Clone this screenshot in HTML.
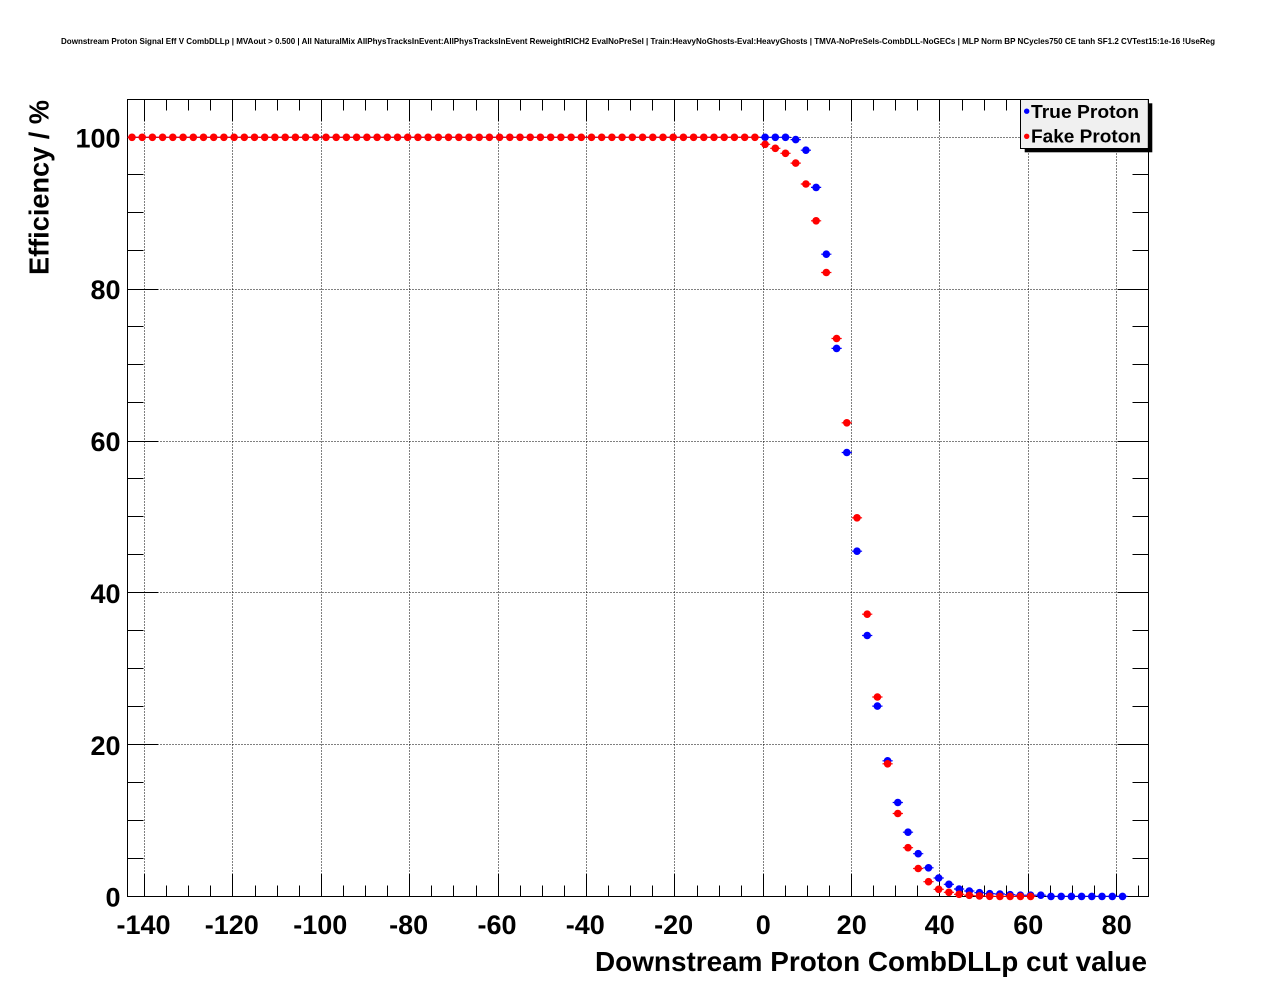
<!DOCTYPE html>
<html>
<head>
<meta charset="utf-8">
<style>
html,body{margin:0;padding:0;background:#fff;}
body{width:1276px;height:996px;overflow:hidden;}
svg{display:block;}
text{font-family:"Liberation Sans",Arial,Helvetica,sans-serif;font-weight:bold;fill:#000;}
</style>
</head>
<body>
<svg width="1276" height="996" viewBox="0 0 1276 996" xmlns="http://www.w3.org/2000/svg">
<rect x="0" y="0" width="1276" height="996" fill="#fff"/>

<!-- title -->
<text x="61" y="44" font-size="8.2" textLength="1154" lengthAdjust="spacingAndGlyphs">Downstream Proton Signal Eff V CombDLLp | MVAout &gt; 0.500 | All NaturalMix AllPhysTracksInEvent:AllPhysTracksInEvent ReweightRICH2 EvalNoPreSel | Train:HeavyNoGhosts-Eval:HeavyGhosts | TMVA-NoPreSels-CombDLL-NoGECs | MLP Norm BP NCycles750 CE tanh SF1.2 CVTest15:1e-16 !UseReg</text>

<!-- grid -->
<g stroke="#000" stroke-width="1" stroke-dasharray="1 2" fill="none">
<path d="M144.5 99.5V896.5M232.5 99.5V896.5M321.5 99.5V896.5M409.5 99.5V896.5M498.5 99.5V896.5M586.5 99.5V896.5M674.5 99.5V896.5M763.5 99.5V896.5M851.5 99.5V896.5M939.5 99.5V896.5M1028.5 99.5V896.5M1116.5 99.5V896.5"/>
<path d="M127.5 744.5H1148.5M127.5 592.5H1148.5M127.5 441.5H1148.5M127.5 289.5H1148.5M127.5 137.5H1148.5"/>
</g>

<!-- frame -->
<rect x="127.5" y="99.5" width="1021" height="797" fill="none" stroke="#000" stroke-width="1"/>

<!-- x ticks -->
<g stroke="#000" stroke-width="1" fill="none">
<path d="M144.5 896.5v-22M232.5 896.5v-22M321.5 896.5v-22M409.5 896.5v-22M498.5 896.5v-22M586.5 896.5v-22M674.5 896.5v-22M763.5 896.5v-22M851.5 896.5v-22M939.5 896.5v-22M1028.5 896.5v-22M1116.5 896.5v-22"/>
<path d="M144.5 99.5v22M232.5 99.5v22M321.5 99.5v22M409.5 99.5v22M498.5 99.5v22M586.5 99.5v22M674.5 99.5v22M763.5 99.5v22M851.5 99.5v22M939.5 99.5v22M1028.5 99.5v22M1116.5 99.5v22"/>
<path d="M166.5 896.5v-11M188.5 896.5v-11M210.5 896.5v-11M255.5 896.5v-11M277.5 896.5v-11M299.5 896.5v-11M343.5 896.5v-11M365.5 896.5v-11M387.5 896.5v-11M431.5 896.5v-11M453.5 896.5v-11M476.5 896.5v-11M520.5 896.5v-11M542.5 896.5v-11M564.5 896.5v-11M608.5 896.5v-11M630.5 896.5v-11M652.5 896.5v-11M697.5 896.5v-11M719.5 896.5v-11M741.5 896.5v-11M785.5 896.5v-11M807.5 896.5v-11M829.5 896.5v-11M873.5 896.5v-11M895.5 896.5v-11M917.5 896.5v-11M962.5 896.5v-11M984.5 896.5v-11M1006.5 896.5v-11M1050.5 896.5v-11M1072.5 896.5v-11M1094.5 896.5v-11M1138.5 896.5v-11"/>
<path d="M166.5 99.5v11M188.5 99.5v11M210.5 99.5v11M255.5 99.5v11M277.5 99.5v11M299.5 99.5v11M343.5 99.5v11M365.5 99.5v11M387.5 99.5v11M431.5 99.5v11M453.5 99.5v11M476.5 99.5v11M520.5 99.5v11M542.5 99.5v11M564.5 99.5v11M608.5 99.5v11M630.5 99.5v11M652.5 99.5v11M697.5 99.5v11M719.5 99.5v11M741.5 99.5v11M785.5 99.5v11M807.5 99.5v11M829.5 99.5v11M873.5 99.5v11M895.5 99.5v11M917.5 99.5v11M962.5 99.5v11M984.5 99.5v11M1006.5 99.5v11M1050.5 99.5v11M1072.5 99.5v11M1094.5 99.5v11M1138.5 99.5v11"/>
<!-- y ticks -->
<path d="M127.5 744.5h31M127.5 592.5h31M127.5 441.5h31M127.5 289.5h31M127.5 137.5h31"/>
<path d="M1148.5 744.5h-31M1148.5 592.5h-31M1148.5 441.5h-31M1148.5 289.5h-31M1148.5 137.5h-31"/>
<path d="M127.5 858.5h16M127.5 820.5h16M127.5 782.5h16M127.5 706.5h16M127.5 668.5h16M127.5 630.5h16M127.5 554.5h16M127.5 516.5h16M127.5 478.5h16M127.5 402.5h16M127.5 364.5h16M127.5 326.5h16M127.5 250.5h16M127.5 212.5h16M127.5 174.5h16"/>
<path d="M1148.5 858.5h-16M1148.5 820.5h-16M1148.5 782.5h-16M1148.5 706.5h-16M1148.5 668.5h-16M1148.5 630.5h-16M1148.5 554.5h-16M1148.5 516.5h-16M1148.5 478.5h-16M1148.5 402.5h-16M1148.5 364.5h-16M1148.5 326.5h-16M1148.5 250.5h-16M1148.5 212.5h-16M1148.5 174.5h-16"/>
</g>

<!-- Blue series (True Proton) -->
<g stroke="#0000ff" stroke-width="1.2" fill="none">
<path d="M127.5 137.3H790.6
M790.6 139.6h10.2M800.8 150.2h10.2M811.0 187.4h10.2M821.2 254.2h10.2M831.5 348.4h10.2M841.7 452.5h10.2M851.9 551.2h10.2M862.1 635.5h10.2M872.3 706.1h10.2M882.5 760.8h10.2M892.7 802.5h10.2M902.9 832.2h10.2M913.1 853.7h10.2M923.4 867.8h10.2M933.6 878.0h10.2M943.8 884.3h10.2M954.0 889.0h10.2M964.2 891.0h10.2M974.4 892.7h10.2M984.6 893.7h10.2M994.8 894.0h10.2M1005.0 894.7h10.2M1015.3 895.2h10.2M1025.5 895.2h10.2M1035.7 895.2h10.2M1045.9 896.3H1127.6"/>
</g>
<g fill="#0000ff">
<circle cx="765.1" cy="137.3" r="3.8"/><circle cx="775.3" cy="137.3" r="3.8"/><circle cx="785.5" cy="137.3" r="3.8"/>
<circle cx="795.7" cy="139.6" r="3.8"/><circle cx="805.9" cy="150.2" r="3.8"/><circle cx="816.1" cy="187.4" r="3.8"/><circle cx="826.3" cy="254.2" r="3.8"/><circle cx="836.6" cy="348.4" r="3.8"/><circle cx="846.8" cy="452.5" r="3.8"/><circle cx="857.0" cy="551.2" r="3.8"/><circle cx="867.2" cy="635.5" r="3.8"/><circle cx="877.4" cy="706.1" r="3.8"/><circle cx="887.6" cy="760.8" r="3.8"/><circle cx="897.8" cy="802.5" r="3.8"/><circle cx="908.0" cy="832.2" r="3.8"/><circle cx="918.2" cy="853.7" r="3.8"/><circle cx="928.5" cy="867.8" r="3.8"/><circle cx="938.7" cy="878.0" r="3.8"/><circle cx="948.9" cy="884.3" r="3.8"/><circle cx="959.1" cy="889.0" r="3.8"/><circle cx="969.3" cy="891.0" r="3.8"/><circle cx="979.5" cy="892.7" r="3.8"/><circle cx="989.7" cy="893.7" r="3.8"/><circle cx="999.9" cy="894.0" r="3.8"/><circle cx="1010.1" cy="894.7" r="3.8"/><circle cx="1020.4" cy="895.2" r="3.8"/><circle cx="1030.6" cy="895.2" r="3.8"/><circle cx="1040.8" cy="895.2" r="3.8"/><circle cx="1051.0" cy="896.4" r="3.8"/><circle cx="1061.2" cy="896.4" r="3.8"/><circle cx="1071.4" cy="896.4" r="3.8"/><circle cx="1081.6" cy="896.4" r="3.8"/><circle cx="1091.8" cy="896.4" r="3.8"/><circle cx="1102.0" cy="896.4" r="3.8"/><circle cx="1112.3" cy="896.4" r="3.8"/><circle cx="1122.5" cy="896.4" r="3.8"/>
</g>

<!-- Red series (Fake Proton) -->
<g stroke="#ff0000" stroke-width="1.2" fill="none">
<path d="M127.5 137.3H760.0
M760.0 144.3h10.2M770.2 148.3h10.2M780.4 153.3h10.2M790.6 163.1h10.2M800.8 184.0h10.2M811.0 220.8h10.2M821.2 272.5h10.2M831.5 338.5h10.2M841.7 422.8h10.2M851.9 517.8h10.2M862.1 614.2h10.2M872.3 697.0h10.2M882.5 763.8h10.2M892.7 813.5h10.2M902.9 847.7h10.2M913.1 868.5h10.2M923.4 881.7h10.2M933.6 889.3h10.2M943.8 892.3h10.2M954.0 894.3h10.2M964.2 895.3h10.2M974.4 895.9h10.2M984.6 896.3H1035.7"/>
</g>
<g fill="#ff0000">
<circle cx="132.0" cy="137.3" r="3.8"/><circle cx="142.2" cy="137.3" r="3.8"/><circle cx="152.4" cy="137.3" r="3.8"/><circle cx="162.6" cy="137.3" r="3.8"/><circle cx="172.8" cy="137.3" r="3.8"/><circle cx="183.1" cy="137.3" r="3.8"/><circle cx="193.3" cy="137.3" r="3.8"/><circle cx="203.5" cy="137.3" r="3.8"/><circle cx="213.7" cy="137.3" r="3.8"/><circle cx="223.9" cy="137.3" r="3.8"/>
<circle cx="234.1" cy="137.3" r="3.8"/><circle cx="244.3" cy="137.3" r="3.8"/><circle cx="254.5" cy="137.3" r="3.8"/><circle cx="264.7" cy="137.3" r="3.8"/><circle cx="274.9" cy="137.3" r="3.8"/><circle cx="285.2" cy="137.3" r="3.8"/><circle cx="295.4" cy="137.3" r="3.8"/><circle cx="305.6" cy="137.3" r="3.8"/><circle cx="315.8" cy="137.3" r="3.8"/><circle cx="326.0" cy="137.3" r="3.8"/>
<circle cx="336.2" cy="137.3" r="3.8"/><circle cx="346.4" cy="137.3" r="3.8"/><circle cx="356.6" cy="137.3" r="3.8"/><circle cx="366.9" cy="137.3" r="3.8"/><circle cx="377.1" cy="137.3" r="3.8"/><circle cx="387.3" cy="137.3" r="3.8"/><circle cx="397.5" cy="137.3" r="3.8"/><circle cx="407.7" cy="137.3" r="3.8"/><circle cx="417.9" cy="137.3" r="3.8"/><circle cx="428.1" cy="137.3" r="3.8"/>
<circle cx="438.3" cy="137.3" r="3.8"/><circle cx="448.5" cy="137.3" r="3.8"/><circle cx="458.8" cy="137.3" r="3.8"/><circle cx="469.0" cy="137.3" r="3.8"/><circle cx="479.2" cy="137.3" r="3.8"/><circle cx="489.4" cy="137.3" r="3.8"/><circle cx="499.6" cy="137.3" r="3.8"/><circle cx="509.8" cy="137.3" r="3.8"/><circle cx="520.0" cy="137.3" r="3.8"/><circle cx="530.2" cy="137.3" r="3.8"/>
<circle cx="540.4" cy="137.3" r="3.8"/><circle cx="550.7" cy="137.3" r="3.8"/><circle cx="560.9" cy="137.3" r="3.8"/><circle cx="571.1" cy="137.3" r="3.8"/><circle cx="581.3" cy="137.3" r="3.8"/><circle cx="591.5" cy="137.3" r="3.8"/><circle cx="601.7" cy="137.3" r="3.8"/><circle cx="611.9" cy="137.3" r="3.8"/><circle cx="622.1" cy="137.3" r="3.8"/><circle cx="632.3" cy="137.3" r="3.8"/>
<circle cx="642.6" cy="137.3" r="3.8"/><circle cx="652.8" cy="137.3" r="3.8"/><circle cx="663.0" cy="137.3" r="3.8"/><circle cx="673.2" cy="137.3" r="3.8"/><circle cx="683.4" cy="137.3" r="3.8"/><circle cx="693.6" cy="137.3" r="3.8"/><circle cx="703.8" cy="137.3" r="3.8"/><circle cx="714.0" cy="137.3" r="3.8"/><circle cx="724.2" cy="137.3" r="3.8"/><circle cx="734.4" cy="137.3" r="3.8"/>
<circle cx="744.7" cy="137.3" r="3.8"/><circle cx="754.9" cy="137.3" r="3.8"/>
<circle cx="765.1" cy="144.3" r="3.8"/><circle cx="775.3" cy="148.3" r="3.8"/><circle cx="785.5" cy="153.3" r="3.8"/><circle cx="795.7" cy="163.1" r="3.8"/><circle cx="805.9" cy="184.0" r="3.8"/><circle cx="816.1" cy="220.8" r="3.8"/><circle cx="826.3" cy="272.5" r="3.8"/><circle cx="836.6" cy="338.5" r="3.8"/><circle cx="846.8" cy="422.8" r="3.8"/><circle cx="857.0" cy="517.8" r="3.8"/><circle cx="867.2" cy="614.2" r="3.8"/><circle cx="877.4" cy="697.0" r="3.8"/><circle cx="887.6" cy="763.8" r="3.8"/><circle cx="897.8" cy="813.5" r="3.8"/><circle cx="908.0" cy="847.7" r="3.8"/><circle cx="918.2" cy="868.5" r="3.8"/><circle cx="928.5" cy="881.7" r="3.8"/><circle cx="938.7" cy="889.3" r="3.8"/><circle cx="948.9" cy="892.3" r="3.8"/><circle cx="959.1" cy="894.3" r="3.8"/><circle cx="969.3" cy="895.3" r="3.8"/><circle cx="979.5" cy="895.9" r="3.8"/><circle cx="989.7" cy="896.3" r="3.8"/><circle cx="999.9" cy="896.4" r="3.8"/><circle cx="1010.1" cy="896.4" r="3.8"/><circle cx="1020.4" cy="896.4" r="3.8"/><circle cx="1030.6" cy="896.4" r="3.8"/>
</g>

<!-- legend -->
<rect x="1024.7" y="103.3" width="127.6" height="49" fill="#000"/>
<rect x="1020.5" y="99.5" width="127.8" height="49" fill="#f0f0f0" stroke="#000" stroke-width="1"/>
<circle cx="1026.7" cy="111.2" r="2.7" fill="#0000ff"/>
<circle cx="1026.7" cy="136.3" r="2.7" fill="#ff0000"/>
<text x="1031" y="117.8" font-size="18.5" textLength="108" lengthAdjust="spacingAndGlyphs">True Proton</text>
<text x="1031" y="142.6" font-size="18.5" textLength="110" lengthAdjust="spacingAndGlyphs">Fake Proton</text>

<!-- x tick labels -->
<g font-size="27" text-anchor="middle">
<text x="143.5" y="934">-140</text>
<text x="231.8" y="934">-120</text>
<text x="320.3" y="934">-100</text>
<text x="408.6" y="934">-80</text>
<text x="497.0" y="934">-60</text>
<text x="585.3" y="934">-40</text>
<text x="673.7" y="934">-20</text>
<text x="763.3" y="934">0</text>
<text x="851.7" y="934">20</text>
<text x="939.7" y="934">40</text>
<text x="1028.3" y="934">60</text>
<text x="1116.7" y="934">80</text>
</g>

<!-- y tick labels -->
<g font-size="27" text-anchor="end">
<text x="120.5" y="906.7">0</text>
<text x="120.5" y="754.8">20</text>
<text x="120.5" y="602.9">40</text>
<text x="120.5" y="451.1">60</text>
<text x="120.5" y="299.2">80</text>
<text x="120.5" y="147.3">100</text>
</g>

<!-- axis titles -->
<text x="595" y="971" font-size="28" textLength="552" lengthAdjust="spacingAndGlyphs">Downstream Proton CombDLLp cut value</text>
<text transform="translate(48.3,275) rotate(-90)" font-size="28" textLength="175" lengthAdjust="spacingAndGlyphs">Efficiency / %</text>
</svg>
</body>
</html>
